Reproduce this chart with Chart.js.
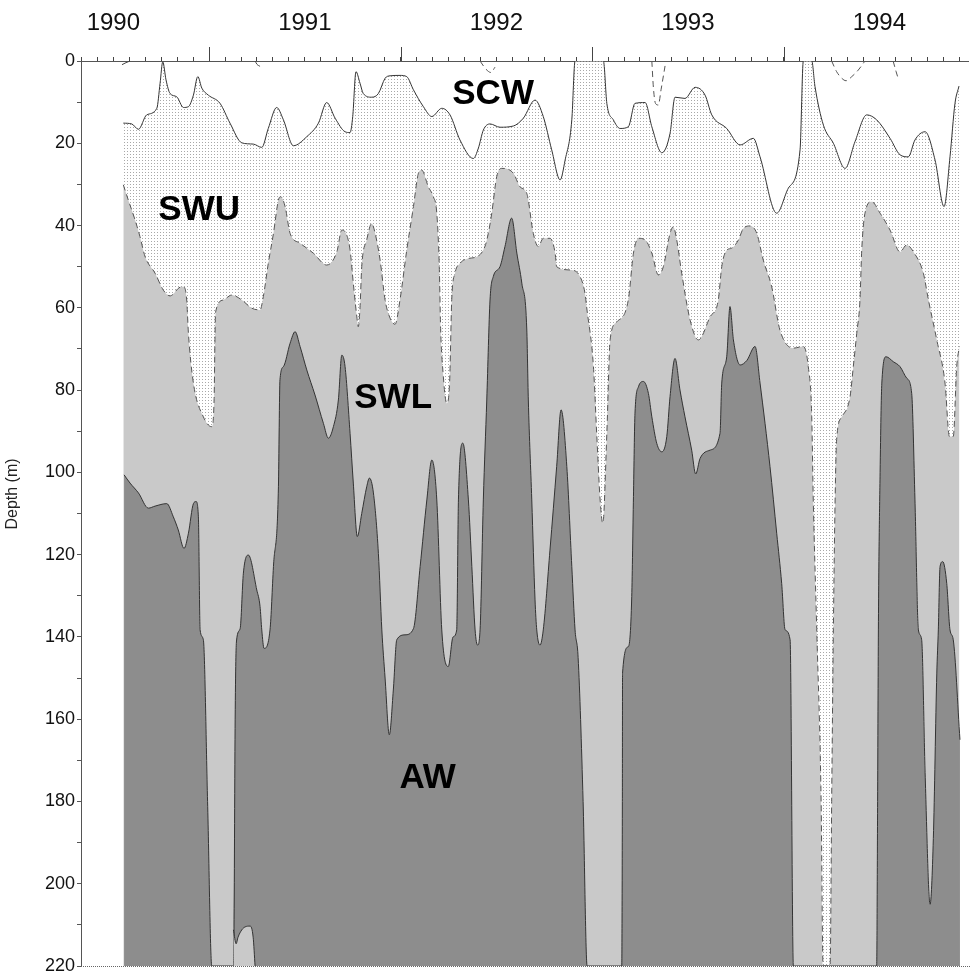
<!DOCTYPE html>
<html lang="en">
<head>
<meta charset="UTF-8">
<title>Water masses 1990-1994</title>
<script src="https://cdn.jsdelivr.net/npm/chart.js"></script>
<style>
  html, body { margin: 0; padding: 0; background: #fff; }
</style>
</head>
<body>
<canvas id="chart" width="970" height="977"></canvas>
<script>
  // axis labels
  const yearLabels = [1990, 1991, 1992, 1993, 1994];
  const depthLabels = [0, 20, 40, 60, 80, 100, 120, 140, 160, 180, 200, 220];
  const midYears = [1990.5, 1991.5, 1992.5, 1993.5];
  const yTitle = 'Depth (m)';

  // SCW / SWU boundary (solid line)
  const scwYears = [1990.052, 1990.096, 1990.131, 1990.174, 1990.227, 1990.244, 1990.258, 1990.275, 1990.296, 1990.331,
    1990.366, 1990.392, 1990.418, 1990.441, 1990.462, 1990.496, 1990.557, 1990.609, 1990.671, 1990.731,
    1990.775, 1990.809, 1990.853, 1990.888, 1990.940, 1991.010, 1991.071, 1991.114, 1991.158, 1991.210,
    1991.236, 1991.250, 1991.267, 1991.288, 1991.305, 1991.349, 1991.384, 1991.419, 1991.445, 1991.497,
    1991.532, 1991.567, 1991.619, 1991.663, 1991.715, 1991.758, 1991.810, 1991.880, 1991.906, 1991.932,
    1991.967, 1992.019, 1992.089, 1992.141, 1992.202, 1992.245, 1992.289, 1992.333, 1992.359, 1992.394,
    1992.411, 1992.559, 1992.577, 1992.611, 1992.646, 1992.689, 1992.724, 1992.777, 1992.812, 1992.864,
    1992.907, 1992.933, 1992.985, 1993.038, 1993.090, 1993.125, 1993.203, 1993.273, 1993.342, 1993.377,
    1993.464, 1993.525, 1993.586, 1993.603, 1993.647, 1993.664, 1993.708, 1993.760, 1993.821, 1993.873,
    1993.934, 1993.986, 1994.056, 1994.108, 1994.151, 1994.186, 1994.239, 1994.291, 1994.338, 1994.369,
    1994.395, 1994.416];
  const scwDepth = [15.1, 15.3, 16.6, 13.1, 11.5, 5.4, 0.2, 4.6, 7.9, 8.7,
    11.3, 11.1, 8.3, 3.8, 6.6, 8.3, 10.3, 15.1, 19.9, 20.2,
    21.0, 16.4, 11.3, 14.3, 20.6, 18.4, 15.1, 10.1, 13.9, 17.2,
    17.4, 13.5, 2.6, 5.4, 7.9, 8.8, 7.9, 4.2, 3.6, 3.5,
    3.8, 7.0, 11.1, 13.5, 11.5, 13.1, 19.2, 23.7, 21.2, 16.8,
    15.3, 16.1, 15.8, 13.9, 9.5, 13.5, 21.6, 28.9, 24.1, 14.3,
    0, 0, 10.3, 14.3, 16.4, 16.0, 10.3, 10.1, 16.0, 22.3,
    17.6, 8.8, 9.1, 6.4, 8.3, 13.1, 16.4, 20.4, 18.8, 23.3,
    37.0, 30.9, 21.6, 0, 0, 6.2, 15.6, 20.0, 26.1, 19.6,
    13.1, 14.3, 18.8, 22.8, 23.3, 19.2, 17.2, 24.1, 35.4, 23.3,
    10.3, 6.1];

  // SWU / SWL boundary (dashed line)
  const swlYears = [1990.052, 1990.078, 1990.113, 1990.139, 1990.166, 1990.218, 1990.261, 1990.296, 1990.348, 1990.366,
    1990.383, 1990.392, 1990.418, 1990.470, 1990.514, 1990.526, 1990.531, 1990.534, 1990.574, 1990.618,
    1990.671, 1990.723, 1990.766, 1990.783, 1990.809, 1990.836, 1990.862, 1990.874, 1990.897, 1990.923,
    1990.975, 1991.044, 1991.114, 1991.167, 1991.193, 1991.210, 1991.236, 1991.253, 1991.271, 1991.279,
    1991.288, 1991.297, 1991.323, 1991.349, 1991.367, 1991.393, 1991.419, 1991.445, 1991.471, 1991.497,
    1991.532, 1991.567, 1991.593, 1991.610, 1991.645, 1991.671, 1991.689, 1991.702, 1991.709, 1991.722,
    1991.741, 1991.756, 1991.767, 1991.784, 1991.810, 1991.854, 1991.898, 1991.941, 1991.958, 1991.976,
    1992.002, 1992.028, 1992.089, 1992.124, 1992.159, 1992.193, 1992.219, 1992.245, 1992.280, 1992.307,
    1992.315, 1992.385, 1992.437, 1992.463, 1992.472, 1992.507, 1992.524, 1992.542, 1992.556, 1992.577,
    1992.594, 1992.629, 1992.689, 1992.716, 1992.742, 1992.777, 1992.812, 1992.846, 1992.872, 1992.907,
    1992.924, 1992.942, 1992.968, 1993.012, 1993.055, 1993.116, 1993.159, 1993.177, 1993.203, 1993.229,
    1993.264, 1993.290, 1993.325, 1993.360, 1993.394, 1993.438, 1993.481, 1993.551, 1993.603, 1993.629,
    1993.647, 1993.655, 1993.673, 1993.696, 1993.706, 1993.743, 1993.751, 1993.760, 1993.769, 1993.777,
    1993.804, 1993.847, 1993.864, 1993.882, 1993.899, 1993.908, 1993.925, 1993.960, 1994.004, 1994.056,
    1994.108, 1994.143, 1994.178, 1994.230, 1994.256, 1994.300, 1994.343, 1994.366, 1994.386, 1994.404,
    1994.418];
  const swlDepth = [30.1, 33.8, 38.6, 42.7, 47.6, 51.6, 55.7, 57.1, 55.0, 54.9,
    58.1, 66.2, 78.3, 86.5, 88.9, 82.4, 66.2, 61.0, 58.1, 56.9,
    58.1, 60.1, 60.5, 57.3, 49.2, 41.9, 33.8, 33.0, 35.4, 41.9,
    44.3, 46.7, 49.6, 46.4, 41.1, 41.5, 45.9, 54.0, 62.0, 64.6,
    60.0, 50.0, 43.5, 39.5, 41.9, 48.4, 58.1, 62.5, 64.0, 58.0,
    46.0, 35.4, 27.3, 26.5, 30.6, 33.0, 37.0, 50.0, 65.0, 76.0,
    83.2, 78.0, 58.0, 51.6, 49.2, 48.0, 47.6, 45.0, 41.9, 37.0,
    28.1, 26.1, 27.3, 30.6, 32.2, 41.9, 45.1, 43.1, 43.1, 46.7,
    50.0, 50.8, 52.4, 56.5, 60.0, 74.3, 90.5, 106.7, 112.4, 90.5,
    67.8, 63.4, 58.1, 46.7, 43.1, 43.5, 46.7, 52.0, 50.0, 41.9,
    40.3, 43.5, 51.6, 63.0, 67.8, 62.2, 58.1, 50.0, 46.0, 45.5,
    43.5, 40.7, 40.1, 41.9, 48.4, 54.9, 65.4, 69.8, 69.4, 74.3,
    86.5, 106.7, 138.0, 180.0, 220, 220, 180, 138, 106.7, 92.0,
    86.5, 81.6, 74.3, 66.2, 58.0, 46.0, 37.0, 34.2, 37.0, 41.1,
    46.4, 44.7, 46.4, 51.6, 58.0, 67.8, 78.3, 91.3, 91.3, 74.3,
    69.4];

  // SWL / AW boundary (top of the dark layer)
  const awYears = [1990.056, 1990.087, 1990.131, 1990.183, 1990.218, 1990.279, 1990.313, 1990.339, 1990.369, 1990.392,
    1990.418, 1990.432, 1990.444, 1990.453, 1990.470, 1990.492, 1990.514, 1990.627, 1990.630, 1990.636,
    1990.643, 1990.662, 1990.679, 1990.705, 1990.749, 1990.766, 1990.775, 1990.787, 1990.818, 1990.836,
    1990.862, 1990.870, 1990.888, 1990.923, 1990.949, 1990.975, 1991.010, 1991.053, 1991.097, 1991.123,
    1991.149, 1991.175, 1991.193, 1991.210, 1991.236, 1991.253, 1991.274, 1991.297, 1991.323, 1991.337,
    1991.358, 1991.384, 1991.402, 1991.419, 1991.441, 1991.462, 1991.480, 1991.523, 1991.567, 1991.602,
    1991.637, 1991.663, 1991.689, 1991.715, 1991.749, 1991.774, 1991.793, 1991.802, 1991.825, 1991.854,
    1991.872, 1991.889, 1991.902, 1991.915, 1991.932, 1991.950, 1991.967, 1991.984, 1992.019, 1992.045,
    1992.080, 1992.107, 1992.133, 1992.159, 1992.167, 1992.185, 1992.202, 1992.211, 1992.228, 1992.245,
    1992.280, 1992.315, 1992.338, 1992.368, 1992.394, 1992.411, 1992.427, 1992.453, 1992.474, 1992.655,
    1992.658, 1992.659, 1992.689, 1992.707, 1992.716, 1992.724, 1992.742, 1992.768, 1992.794, 1992.812,
    1992.838, 1992.864, 1992.890, 1992.907, 1992.933, 1992.959, 1992.985, 1993.020, 1993.041, 1993.064,
    1993.116, 1993.168, 1993.177, 1993.203, 1993.220, 1993.238, 1993.273, 1993.308, 1993.351, 1993.377,
    1993.429, 1993.464, 1993.490, 1993.508, 1993.534, 1993.551, 1993.986, 1993.991, 1993.995, 1994.004,
    1994.013, 1994.035, 1994.073, 1994.108, 1994.143, 1994.169, 1994.186, 1994.204, 1994.221, 1994.239,
    1994.265, 1994.282, 1994.300, 1994.308, 1994.317, 1994.331, 1994.352, 1994.369, 1994.386, 1994.421];
  const awDepth = [100.6, 102.6, 105.0, 108.7, 108.2, 107.6, 110.8, 114.0, 118.5, 114.8,
    107.6, 107.1, 110.8, 138.3, 140.7, 180.0, 220, 220, 211, 160,
    141, 138, 124.5, 120.1, 128.6, 132.6, 138.3, 142.8, 138.3, 122.9,
    103.5, 77.5, 74.3, 68.6, 65.8, 69.4, 75.1, 81.2, 88.1, 91.7,
    88.9, 82.4, 71.5, 74.3, 90.5, 102.6, 115.6, 110.0, 103.5, 101.4,
    105.0, 119.7, 138.3, 150.0, 163.8, 152.9, 140.7, 139.5, 138.0, 122.9,
    106.7, 97.0, 106.7, 138.3, 147.2, 140.0, 138.3, 106.7, 92.9, 106.7,
    122.9, 138.3, 142.0, 138.3, 106.7, 82.4, 58.1, 52.4, 50.0, 45.1,
    38.2, 46.7, 54.0, 65.4, 82.4, 106.7, 131.0, 138.3, 142.0, 138.3,
    118.9, 98.6, 84.8, 98.6, 122.9, 138.3, 145.0, 180.0, 220, 220,
    180, 148.8, 142.4, 130.2, 105.9, 85.6, 79.2, 77.9, 80.8, 86.5,
    93.0, 95.0, 91.3, 81.6, 72.3, 80.0, 86.5, 94.6, 100.4, 96.6,
    94.6, 90.5, 78.3, 71.9, 59.7, 67.8, 73.9, 72.8, 69.4, 78.3,
    98.6, 114.8, 127.0, 138.3, 140.7, 220, 220, 180, 138.3, 100.0,
    78.3, 71.9, 73.1, 74.3, 77.1, 80.8, 106.7, 138.3, 140.7, 173.0,
    205.0, 189.0, 149.0, 138.3, 122.9, 121.7, 127.0, 138.3, 140.7, 165.0];

  // small SWL pocket under the AW near the bottom, mid 1990
  const notchYears = [1990.627, 1990.641, 1990.651, 1990.671, 1990.688, 1990.714, 1990.730, 1990.740];
  const notchDepth = [211.2, 214.6, 213.0, 211.2, 210.5, 210.3, 213.0, 220];

  // loose contour bits near the surface (null = break)
  const dashBitYears = [1991.915, 1991.946, 1991.972, 1991.993, 1992.4, 1992.812, 1992.820, 1992.831, 1992.846, 1992.860,
    1992.881, 1993.3, 1993.751, 1993.777, 1993.804, 1993.826, 1993.856, 1993.890, 1993.925, 1994.0,
    1994.072, 1994.087, 1994.098];
  const dashBitDepth = [0, 2.0, 2.8, 1.5, null, 0, 6.4, 10.3, 10.7, 7.0,
    1.2, null, 0, 2.6, 4.2, 4.8, 3.8, 2.2, 0, null,
    0, 2.5, 4.2];
  const solidBitYears = [1990.045, 1990.066, 1990.087, 1990.4, 1990.740, 1990.750, 1990.766];
  const solidBitDepth = [0.9, 0.4, 0, null, 0, 0.8, 1.3];

  // water mass names and where they sit
  const zoneNames = ['SCW', 'SWU', 'SWL', 'AW'];
  const zoneYears = [1991.983, 1990.448, 1991.461, 1991.641];
  const zoneDepths = [7.5, 35.6, 81.2, 173.6];

  const FONT = '"Liberation Sans", Arial, Helvetica, sans-serif';

  function pts(xs, ys) {
    return xs.map((x, i) => ({ x: x, y: ys[i] }));
  }

  function stipple(ctx) {
    const c = document.createElement('canvas');
    c.width = 3; c.height = 3;
    const g = c.getContext('2d');
    g.fillStyle = '#ffffff'; g.fillRect(0, 0, 3, 3);
    g.fillStyle = '#a8a8a8'; g.fillRect(1, 1, 1, 1);
    return ctx.createPattern(c, 'repeat');
  }

  const monthTicks = [];
  for (let m = 10; m <= 65; m++) monthTicks.push(1989 + m / 12);

  const extras = {
    id: 'extras',
    afterDraw(chart) {
      const { ctx, chartArea: a, scales: { x, y } } = chart;
      ctx.save();
      // taller ticks at mid year
      ctx.strokeStyle = '#444';
      ctx.lineWidth = 1;
      ctx.beginPath();
      midYears.forEach(v => {
        const px = Math.round(x.getPixelForValue(v)) + 0.5;
        ctx.moveTo(px, a.top);
        ctx.lineTo(px, a.top - 14);
      });
      ctx.stroke();
      // bottom frame
      ctx.strokeStyle = '#666';
      ctx.setLineDash([1, 1]);
      ctx.beginPath();
      ctx.moveTo(a.left, Math.round(a.bottom) + 0.5);
      ctx.lineTo(chart.width, Math.round(a.bottom) + 0.5);
      ctx.stroke();
      ctx.setLineDash([]);
      // y title, a bit above the middle as in the original
      ctx.save();
      ctx.translate(13, 494);
      ctx.rotate(-Math.PI / 2);
      ctx.fillStyle = '#222';
      ctx.font = '16px ' + FONT;
      ctx.textAlign = 'center';
      ctx.textBaseline = 'middle';
      ctx.fillText(yTitle, 0, 0);
      ctx.restore();
      // zone names
      ctx.fillStyle = '#000';
      ctx.font = 'bold 35px ' + FONT;
      ctx.textAlign = 'center';
      ctx.textBaseline = 'alphabetic';
      zoneNames.forEach((n, i) => {
        ctx.fillText(n, x.getPixelForValue(zoneYears[i]), y.getPixelForValue(zoneDepths[i]) + 12.5);
      });
      ctx.restore();
    }
  };

  const canvas = document.getElementById('chart');
  const ctx = canvas.getContext('2d');

  new Chart(ctx, {
    type: 'line',
    data: {
      datasets: [
        { label: 'bits', data: pts(solidBitYears, solidBitDepth), borderColor: '#444', borderWidth: 1, fill: false, spanGaps: false },
        { label: 'dash bits', data: pts(dashBitYears, dashBitDepth), borderColor: '#555', borderWidth: 1, borderDash: [6, 4], fill: false, spanGaps: false },
        { label: 'notch', data: pts(notchYears, notchDepth), borderColor: '#333', borderWidth: 1, backgroundColor: '#c9c9c9', fill: { value: 220 } },
        { label: 'AW', data: pts(awYears, awDepth), borderColor: '#333', borderWidth: 1, backgroundColor: '#8d8d8d', fill: { value: 220 } },
        { label: 'SWL', data: pts(swlYears, swlDepth), borderColor: '#555', borderWidth: 1, borderDash: [6, 4], backgroundColor: '#c9c9c9', fill: { value: 220 } },
        { label: 'SWU', data: pts(scwYears, scwDepth), borderColor: '#333', borderWidth: 1, backgroundColor: stipple(ctx), fill: { value: 220 } }
      ]
    },
    options: {
      responsive: false,
      animation: false,
      events: [],
      layout: { padding: { left: 0, right: 2, bottom: 11 } },
      plugins: { legend: { display: false }, tooltip: { enabled: false } },
      elements: { point: { radius: 0 }, line: { cubicInterpolationMode: 'monotone' } },
      scales: {
        x: {
          type: 'linear',
          position: 'top',
          min: 1989.831,
          max: 1994.463,
          afterBuildTicks: s => { s.ticks = monthTicks.map(v => ({ value: v })); },
          afterFit: s => { s.height = 61; s.paddingLeft = 0; s.paddingRight = 0; },
          grid: { drawOnChartArea: false, drawTicks: true, tickLength: 4, tickColor: '#444' },
          border: { display: true, color: '#555', dash: [1, 1] },
          ticks: {
            autoSkip: false, maxRotation: 0, padding: 19, color: '#111',
            font: { size: 24, family: FONT },
            callback: v => {
              const r = Math.round(v);
              return (Math.abs(v - r) < 1e-6 && yearLabels.includes(r)) ? String(r) : '';
            }
          }
        },
        y: {
          type: 'linear',
          reverse: true,
          min: 0,
          max: 220,
          afterFit: s => { s.width = 81; s.paddingTop = 0; s.paddingBottom = 0; },
          grid: { drawOnChartArea: false, tickLength: 4, tickColor: '#555' },
          border: { display: true, color: '#555', dash: [1, 1] },
          ticks: {
            stepSize: 10, autoSkip: false, padding: 2, color: '#111',
            font: { size: 18, family: FONT },
            callback: v => depthLabels.includes(v) ? String(v) : ''
          }
        }
      }
    },
    plugins: [extras]
  });
</script>
</body>
</html>
